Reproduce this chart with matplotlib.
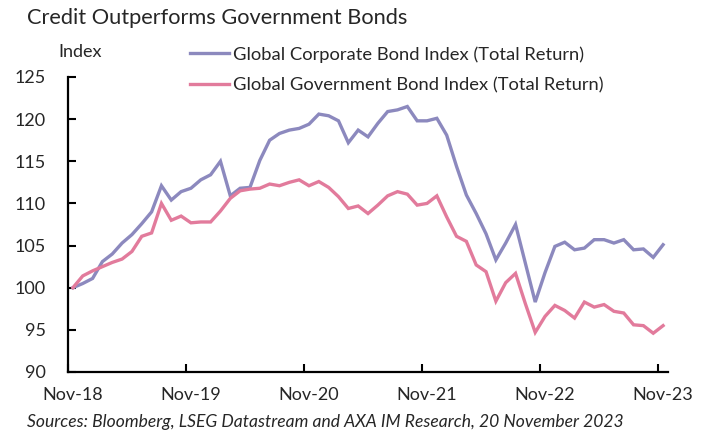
import matplotlib
matplotlib.use("Agg")
import matplotlib.pyplot as plt
import numpy as np

plt.rcParams['font.family'] = ['Lato', 'DejaVu Sans']

# ---------- Data (monthly, Nov-18 .. Nov-23) ----------
corporate = [
    100.0, 100.5, 101.1, 103.1, 104.0, 105.3, 106.3, 107.6, 109.0, 112.1,
    110.4, 111.4, 111.8, 112.8, 113.4, 115.0, 110.9, 111.8, 111.9, 115.1,
    117.5, 118.3, 118.7, 118.9, 119.4, 120.6, 120.4, 119.8, 117.2, 118.7,
    117.9, 119.5, 120.9, 121.1, 121.5, 119.8, 119.8, 120.1, 118.1, 114.4,
    111.0, 108.8, 106.4, 103.3, 105.3, 107.5, 102.9, 98.3, 101.8, 104.9,
    105.4, 104.5, 104.7, 105.7, 105.7, 105.3, 105.7, 104.5, 104.6, 103.6,
    105.1,
]
government = [
    100.0, 101.4, 102.0, 102.5, 103.0, 103.4, 104.3, 106.1, 106.5, 110.0,
    108.0, 108.5, 107.7, 107.8, 107.8, 109.1, 110.6, 111.5, 111.7, 111.8,
    112.3, 112.1, 112.5, 112.8, 112.1, 112.6, 111.9, 110.8, 109.4, 109.7,
    108.8, 109.8, 110.9, 111.4, 111.1, 109.8, 110.0, 110.9, 108.4, 106.1,
    105.5, 102.7, 101.9, 98.4, 100.6, 101.7, 98.1, 94.7, 96.6, 97.9,
    97.3, 96.4, 98.3, 97.7, 98.0, 97.2, 97.0, 95.6, 95.5, 94.6,
    95.5,
]
tick_labels = ["Nov-18", "Nov-19", "Nov-20", "Nov-21", "Nov-22", "Nov-23"]
series_names = ["Global Corporate Bond Index (Total Return)",
                "Global Government Bond Index (Total Return)"]

PURPLE = "#8c89be"
PINK = "#e27b9c"
TEXT = "#262626"

fig = plt.figure(figsize=(7.07, 4.32), dpi=100)
ax = fig.add_axes([68 / 707, 60 / 432, 600 / 707, 295 / 432])

# points sit in the middle of each month slot (Excel date axis style)
x = np.arange(len(corporate)) + 0.5
l1, = ax.plot(x, corporate, color=PURPLE, lw=2.4, solid_joinstyle='miter')
l2, = ax.plot(x, government, color=PINK, lw=2.4, solid_joinstyle='miter')

ax.set_xlim(0, len(corporate))
ax.set_ylim(90, 125)
ax.set_yticks(np.arange(90, 126, 5))

# ticks on month boundaries, labels in the middle of the month
ax.set_xticks(np.arange(0, 61, 12))
ax.set_xticklabels([])
ax.set_xticks(np.arange(0, 61, 12) + 0.5, minor=True)
ax.set_xticklabels(tick_labels, minor=True)
ax.tick_params(axis='x', which='minor', length=0, pad=11, labelsize=13,
               labelcolor=TEXT)
ax.tick_params(axis='x', which='major', direction='in', length=6, width=1.5)
ax.tick_params(axis='y', direction='in', length=6, width=1.5, pad=16,
               labelsize=13, labelcolor=TEXT)

for s in ['top', 'right']:
    ax.spines[s].set_visible(False)
for s in ['left', 'bottom']:
    ax.spines[s].set_linewidth(1.6)

# title, unit, legend, source
fig.text(27 / 707, 1 - 18 / 432, "Credit Outperforms Government Bonds",
         fontsize=15.7, va='center', ha='left', color=TEXT)
fig.text(58 / 707, 1 - 52 / 432, "Index", fontsize=13, va='center', ha='left',
         color=TEXT)
leg = fig.legend([l1, l2], series_names, loc='upper left',
                 bbox_to_anchor=(190 / 707, 1 - 46 / 432), frameon=False,
                 fontsize=13.2, handlelength=2.15, handletextpad=0.18,
                 labelspacing=0.78, borderpad=0, borderaxespad=0)
for t in leg.get_texts():
    t.set_color(TEXT)
fig.text(27 / 707, 1 - 422 / 432,
         "Sources: Bloomberg, LSEG Datastream and AXA IM Research, 20 November 2023",
         fontsize=12.6, style='italic', va='center', ha='left', color=TEXT)

fig.savefig("out.png", dpi=100)
